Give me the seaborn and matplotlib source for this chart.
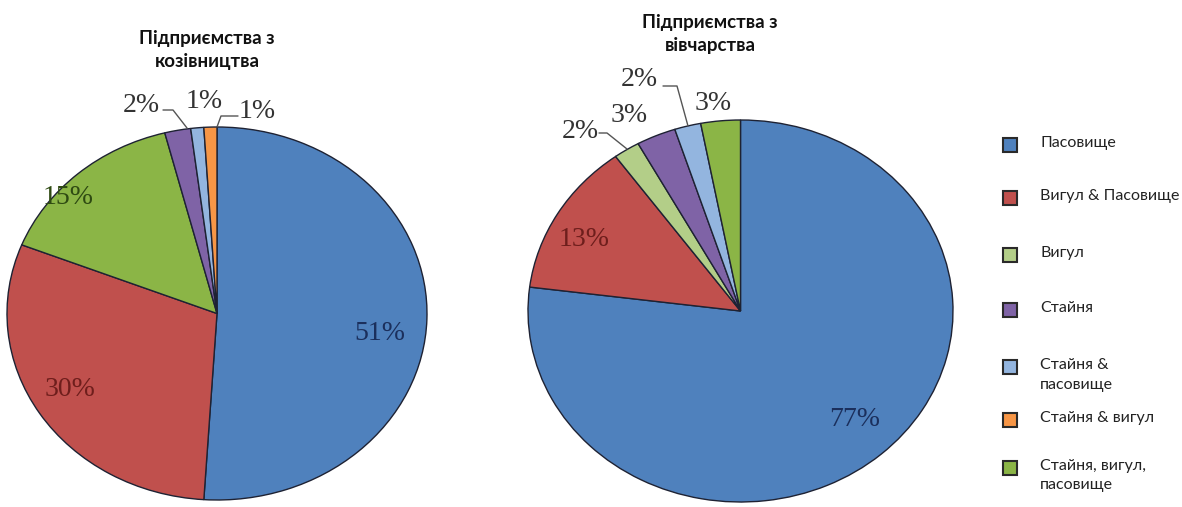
import matplotlib
matplotlib.use("Agg")
import matplotlib.pyplot as plt
from matplotlib.patches import Rectangle
import seaborn as sns

sns.set_theme(style="white")
plt.rcParams['font.family'] = ['Lato', 'DejaVu Sans']

# ---------------- data ----------------
legend_labels = ["Пасовище", "Вигул & Пасовище", "Вигул", "Стайня",
                 "Стайня &\nпасовище", "Стайня & вигул", "Стайня, вигул,\nпасовище"]
legend_colors = ["#4F81BD", "#C0504D", "#B3CE88", "#7F63A6", "#93B5DF", "#F79646", "#8BB546"]

goat_title = "Підприємства з\nкозівництва"
goat_cats = ["Пасовище", "Вигул & Пасовище", "Стайня, вигул,\nпасовище", "Стайня",
             "Стайня &\nпасовище", "Стайня & вигул"]
goat_vals = [51, 30, 15, 2, 1, 1]

sheep_title = "Підприємства з\nвівчарства"
sheep_cats = ["Пасовище", "Вигул & Пасовище", "Вигул", "Стайня",
              "Стайня &\nпасовище", "Стайня, вигул,\nпасовище"]
sheep_vals = [77, 13, 2, 3, 2, 3]

cmap = dict(zip(legend_labels, legend_colors))
dark_text = {"Пасовище": "#1B2F5C", "Вигул & Пасовище": "#6E1E1C",
             "Стайня, вигул,\nпасовище": "#2E4A12"}

W, H = 1182, 507
fig = plt.figure(figsize=(W / 100, H / 100), dpi=100)
fig.patch.set_facecolor("white")

# overlay axes in pixel coordinates for texts
ov = fig.add_axes([0, 0, 1, 1], zorder=5)
ov.set_xlim(0, W)
ov.set_ylim(H, 0)
ov.axis("off")
ov.patch.set_alpha(0)


def draw_pie(box, cats, vals):
    x0, y0, x1, y1 = box  # pixel box (left, top, right, bottom)
    ax = fig.add_axes([x0 / W, (H - y1) / H, (x1 - x0) / W, (y1 - y0) / H])
    ax.pie(vals, colors=[cmap[c] for c in cats], startangle=90, counterclock=False,
           radius=1.0, wedgeprops=dict(edgecolor="#1E2233", linewidth=1.0))
    ax.set_aspect("auto")
    ax.set_xlim(-1, 1)
    ax.set_ylim(-1, 1)
    ax.axis("off")
    return ax


draw_pie((7, 127, 427, 500), goat_cats, goat_vals)
draw_pie((528, 120, 953, 502), sheep_cats, sheep_vals)

serif = dict(family=["Liberation Serif", "DejaVu Serif"], fontsize=20)

# label positions (layout) per slice index; big slices get dark tinted text
goat_pos = [(380, 333), (70, 390), (68, 198), (141, 106), (204, 102), (257, 112)]
for i, (v, c) in enumerate(zip(goat_vals, goat_cats)):
    col = dark_text.get(c, "#333333") if v >= 10 else "#333333"
    ov.text(*goat_pos[i], f"{v}%", ha="center", va="center", color=col, **serif)
sheep_pos = [(855, 420), (584, 240), (580, 132), (629, 115), (639, 79), (713, 103)]
for i, (v, c) in enumerate(zip(sheep_vals, sheep_cats)):
    col = dark_text.get(c, "#333333") if v >= 10 else "#333333"
    ov.text(*sheep_pos[i], f"{v}%", ha="center", va="center", color=col, **serif)

# leader lines
lk = dict(color="#555555", linewidth=1.0)
ov.plot([163, 173, 187], [110, 110, 128], **lk)
ov.plot([238, 221, 217], [116, 116, 127], **lk)
ov.plot([599, 607, 627], [133, 133, 149], **lk)
ov.plot([663, 677, 688], [86, 86, 126], **lk)

# titles
tk = dict(ha="center", va="center", fontsize=13.5, fontweight="bold", color="#111111",
          linespacing=1.4)
ov.text(207, 50, goat_title, **tk)
ov.text(710, 34, sheep_title, **tk)

# legend
leg_y = [145, 198, 255, 310, 367, 420, 468]
for lab, col, y in zip(legend_labels, legend_colors, leg_y):
    ov.add_patch(Rectangle((1003, y - 7), 14, 14, facecolor=col, edgecolor="#2A2A2A",
                           linewidth=1.5))
    ov.text(1040, y - 9, lab, ha="left", va="top", fontsize=11.5, color="#222222",
            linespacing=1.5)

fig.savefig("out.png", dpi=100, facecolor="white")
